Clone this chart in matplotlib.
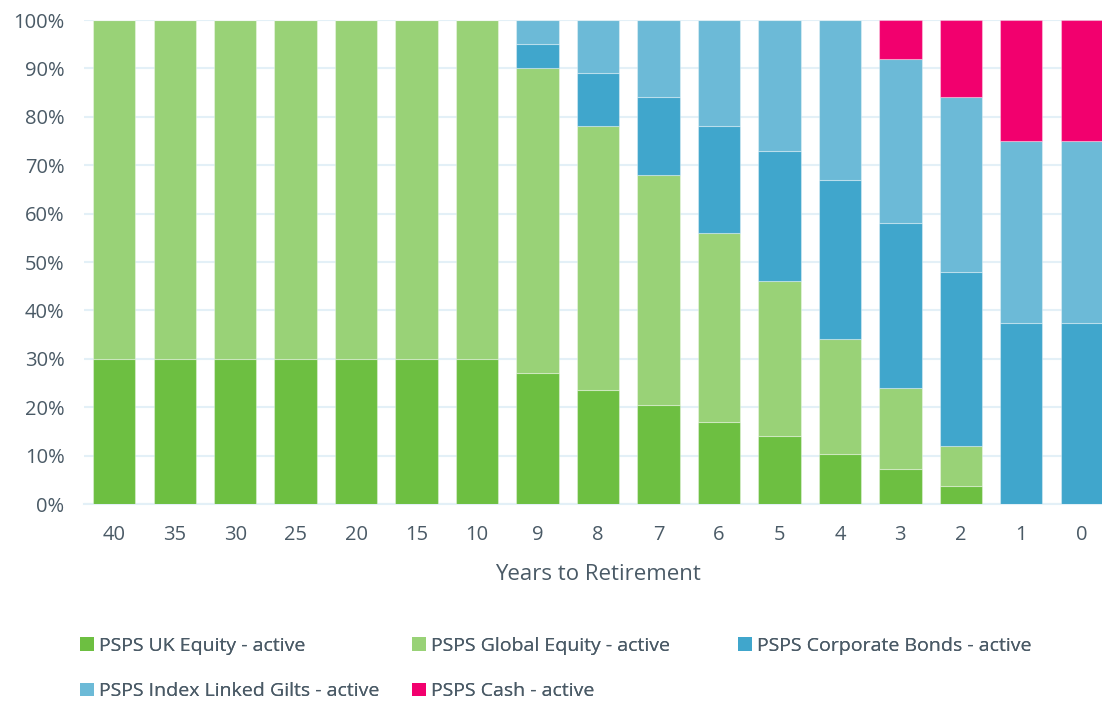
import matplotlib
matplotlib.use("Agg")
import matplotlib.pyplot as plt
import numpy as np
from matplotlib.patches import Patch

plt.rcParams['font.family'] = ['Open Sans', 'DejaVu Sans']

years = ["40", "35", "30", "25", "20", "15", "10", "9", "8", "7", "6", "5", "4", "3", "2", "1", "0"]
uk_equity = [30, 30, 30, 30, 30, 30, 30, 27, 23.5, 20.5, 17, 14, 10.3, 7.2, 3.7, 0, 0]
global_equity = [70, 70, 70, 70, 70, 70, 70, 63, 54.5, 47.5, 39, 32, 23.7, 16.8, 8.3, 0, 0]
corp_bonds = [0, 0, 0, 0, 0, 0, 0, 5, 11, 16, 22, 27, 33, 34, 36, 37.5, 37.5]
index_gilts = [0, 0, 0, 0, 0, 0, 0, 5, 11, 16, 22, 27, 33, 34, 36, 37.5, 37.5]
cash = [0, 0, 0, 0, 0, 0, 0, 0, 0, 0, 0, 0, 0, 8, 16, 25, 25]

names = ["PSPS UK Equity - active", "PSPS Global Equity - active",
         "PSPS Corporate Bonds - active", "PSPS Index Linked Gilts - active",
         "PSPS Cash - active"]
colors = ["#6dbf41", "#99d277", "#40a6cc", "#6cbad7", "#f2006e"]
series = [uk_equity, global_equity, corp_bonds, index_gilts, cash]

text_color = "#4a5a66"
fig = plt.figure(figsize=(11.02, 7.02), dpi=100)
ax = fig.add_axes([84/1102, 1-504/702, (1112-84)/1102, (504-20)/702])

x = np.arange(len(years))
bottom = np.zeros(len(years))
for vals, c, n in zip(series, colors, names):
    v = np.array(vals, dtype=float)
    ax.bar(x, v, bottom=bottom, width=0.7, color=c, edgecolor=(1, 1, 1, 0.35), linewidth=0.8, label=n, zorder=3)
    bottom += v

ax.set_xlim(-0.5, len(years) - 0.5)
ax.set_ylim(0, 100)
ax.set_yticks(np.arange(0, 101, 10))
ax.set_yticklabels([f"{t}%" for t in range(0, 101, 10)])
ax.set_xticks(x)
ax.set_xticklabels(years)
ax.tick_params(axis='both', length=0, labelsize=14.5, colors=text_color)
ax.tick_params(axis='x', pad=15)
ax.tick_params(axis='y', pad=14)
ax.grid(axis='y', color="#e3f0f7", linewidth=1.5, zorder=0)
for s in ["top", "right", "left"]:
    ax.spines[s].set_visible(False)
ax.spines["bottom"].set_color("#e3f0f7")
ax.spines["bottom"].set_linewidth(1.5)
ax.set_xlabel("Years to Retirement", fontsize=16, color=text_color, labelpad=14)

handles = [Patch(facecolor=c, edgecolor='none') for c in colors]
groups = [([0, 3], 80), ([1, 4], 412), ([2], 738)]
for idxs, xpos in groups:
    lg = fig.legend([handles[i] for i in idxs], [names[i] for i in idxs],
                    ncol=1, loc='upper left', bbox_to_anchor=(xpos/1102, 1-637/702),
                    frameon=False, fontsize=14, handlelength=0.7, handleheight=0.7,
                    handletextpad=0.3, labelspacing=1.4,
                    labelcolor=text_color, borderaxespad=0, borderpad=0)
    fig.add_artist(lg)

fig.savefig("out.png", dpi=100)
